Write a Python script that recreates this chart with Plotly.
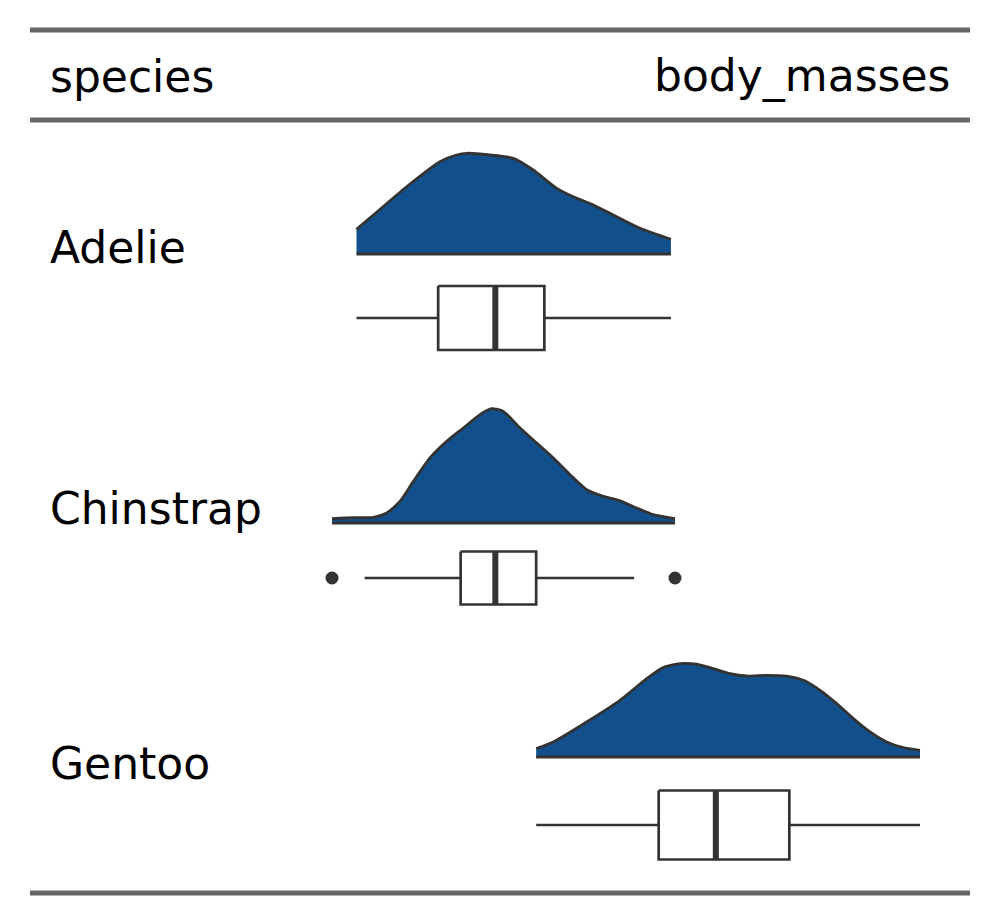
import plotly.graph_objects as go

# ---------------- data ----------------
species = ["Adelie", "Chinstrap", "Gentoo"]
header_labels = ["species", "body_masses"]

# density curves (body mass in g, relative density, peak = 1)
adelie_mass = [2850, 2953, 3157, 3361, 3463, 3525, 3667, 3810, 3932, 4076, 4177, 4300, 4422, 4586, 4775]
adelie_dens = [0.245, 0.387, 0.668, 0.917, 0.983, 1.0, 0.983, 0.95, 0.834, 0.652, 0.569, 0.487, 0.387, 0.255, 0.146]

chinstrap_mass = [2700, 2830, 2953, 3035, 3116, 3198, 3300, 3402, 3504, 3606, 3678, 3749, 3851, 3953,
                  4055, 4157, 4259, 4361, 4463, 4565, 4667, 4800]
chinstrap_dens = [0.038, 0.046, 0.049, 0.087, 0.189, 0.364, 0.569, 0.714, 0.831, 0.948, 1.0, 0.976, 0.831,
                  0.700, 0.569, 0.423, 0.291, 0.233, 0.195, 0.131, 0.073, 0.038]

gentoo_mass = [3950, 4055, 4259, 4463, 4627, 4728, 4831, 4933, 5034, 5137, 5239, 5361, 5484, 5586, 5688,
               5790, 5892, 5994, 6096, 6197, 6300]
gentoo_dens = [0.090, 0.161, 0.375, 0.607, 0.839, 0.957, 1.0, 0.993, 0.946, 0.893, 0.867, 0.875, 0.867,
               0.821, 0.714, 0.572, 0.411, 0.268, 0.161, 0.101, 0.072]

# box-plot statistics (g)
whisker_low = [2850, 2900, 3950]
q1 = [3350, 3487.5, 4700]
median = [3700, 3700, 5050]
q3 = [4000, 3950, 5500]
whisker_high = [4775, 4550, 6300]
outliers = [[], [2700, 4800], []]

# ---------------- layout constants (pixel space) ----------------
W, H = 999, 921
px_lo, px_hi, g_lo, g_hi = 332, 675, 2700, 4800
s = (px_hi - px_lo) / (g_hi - g_lo)
x0 = g_lo - px_lo / s
x1 = x0 + W / s

dens_base = [254, 523, 757]
dens_height = [100.7, 114.3, 93.4]
box_center = [318, 578, 825]
box_half = [32, 26.5, 34.5]
label_y = [247, 508, 763]

FILL = "#11508C"
LINE = "#333333"
RULE = "#666666"
FONT = "DejaVu Sans"
FS = 44

fig = go.Figure()

dens_data = [(adelie_mass, adelie_dens), (chinstrap_mass, chinstrap_dens), (gentoo_mass, gentoo_dens)]
for i, (xs, ds) in enumerate(dens_data):
    base = dens_base[i]
    ys = [base - d * dens_height[i] for d in ds]
    # invisible baseline to fill against
    fig.add_trace(go.Scatter(
        x=[xs[0], xs[-1]], y=[base, base], mode="lines",
        line=dict(width=0, color=FILL), hoverinfo="skip", showlegend=False))
    # curve with fill down to baseline
    fig.add_trace(go.Scatter(
        x=xs, y=ys, mode="lines", fill="tonexty", fillcolor=FILL,
        line=dict(width=2.8, color=LINE, shape="spline", smoothing=0.6),
        hoverinfo="skip", showlegend=False))
    # visible baseline
    fig.add_trace(go.Scatter(
        x=[xs[0], xs[-1]], y=[base, base], mode="lines",
        line=dict(width=3, color=LINE), hoverinfo="skip", showlegend=False))

    # box plot
    c, h = box_center[i], box_half[i]
    fig.add_trace(go.Scatter(
        x=[whisker_low[i], q1[i], None, q3[i], whisker_high[i]], y=[c, c, None, c, c],
        mode="lines", line=dict(width=2.7, color=LINE), hoverinfo="skip", showlegend=False))
    fig.add_trace(go.Scatter(
        x=[q1[i], q3[i], q3[i], q1[i], q1[i]], y=[c - h, c - h, c + h, c + h, c - h],
        mode="lines", fill="toself", fillcolor="white",
        line=dict(width=2.7, color=LINE), hoverinfo="skip", showlegend=False))
    fig.add_trace(go.Scatter(
        x=[median[i], median[i]], y=[c - h, c + h], mode="lines",
        line=dict(width=6, color=LINE), hoverinfo="skip", showlegend=False))
    if outliers[i]:
        fig.add_trace(go.Scatter(
            x=outliers[i], y=[c] * len(outliers[i]), mode="markers",
            marker=dict(size=13, color=LINE), hoverinfo="skip", showlegend=False))

# horizontal rules
for yy in [30, 120, 893]:
    fig.add_shape(type="line", xref="paper", yref="y", x0=30 / W, x1=970 / W, y0=yy, y1=yy,
                  line=dict(color=RULE, width=5))

# header text
fig.add_annotation(x=48 / W, y=76, xref="paper", yref="y", text=header_labels[0], showarrow=False,
                   xanchor="left", yanchor="middle", font=dict(family=FONT, size=FS, color="black"))
fig.add_annotation(x=952 / W, y=76, xref="paper", yref="y", text=header_labels[1], showarrow=False,
                   xanchor="right", yanchor="middle", font=dict(family=FONT, size=FS, color="black"))
for i, name in enumerate(species):
    fig.add_annotation(x=48 / W, y=label_y[i], xref="paper", yref="y", text=name, showarrow=False,
                       xanchor="left", yanchor="middle", font=dict(family=FONT, size=FS, color="black"))

fig.update_layout(
    width=W, height=H, autosize=False,
    margin=dict(l=0, r=0, t=0, b=0, pad=0),
    paper_bgcolor="white", plot_bgcolor="white",
    xaxis=dict(range=[x0, x1], visible=False, showgrid=False, zeroline=False, fixedrange=True),
    yaxis=dict(range=[H, 0], visible=False, showgrid=False, zeroline=False, fixedrange=True),
    showlegend=False,
)

fig.write_html("out.html")
